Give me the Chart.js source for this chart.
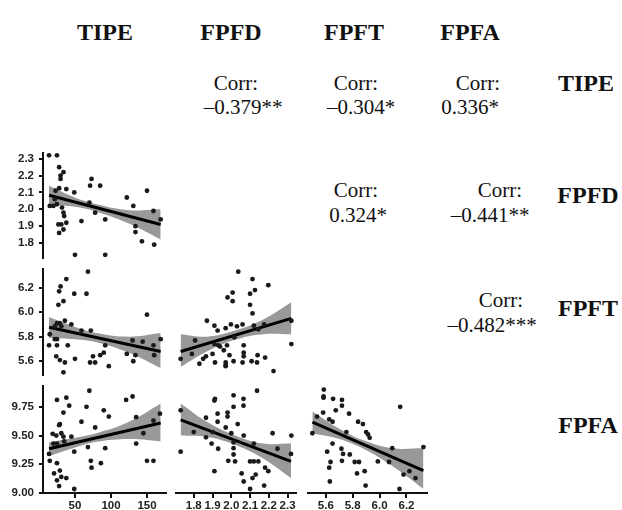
<!DOCTYPE html>
<html>
<head>
<meta charset="utf-8">
<script src="https://cdn.jsdelivr.net/npm/chart.js@4.4.1/dist/chart.umd.min.js"></script>
<style>
  body { margin: 0; background: #fff; }
  #page { position: relative; width: 622px; height: 510px; overflow: hidden; background: #fff; font-family: "Liberation Serif", "Times New Roman", serif; color: #111; }
  .txt { position: absolute; transform: translate(-50%, -50%); white-space: nowrap; line-height: 1; }
  .head { font-weight: bold; font-size: 24px; }
  .corr { font-size: 21px; }
  .panel { position: absolute; }
</style>
</head>
<body>
<div id="page"></div>
<script>
// variable names
const varNames = ["TIPE", "FPFD", "FPFT", "FPFA"];

// tick labels
const tipeTicks = [50, 100, 150];
const fpfdTicks = [1.8, 1.9, 2.0, 2.1, 2.2, 2.3];
const fpftTicks = [5.6, 5.8, 6.0, 6.2];
const fpfaTicks = [9.00, 9.25, 9.50, 9.75];

// correlations shown in the upper triangle
const corrRow = [0, 0, 0, 1, 1, 2];
const corrCol = [1, 2, 3, 2, 3, 3];
const corrText = ["\u20130.379**", "\u20130.304*", "0.336*", "0.324*", "\u20130.441**", "\u20130.482***"];

// FPFD vs TIPE
const p21x = [14,25,28,34,30,30,49, 15,20,22,25,32,34,35, 28,23,38,27,31,38,34,28, 50,73,71,85,59,70,78,92,92, 122,131,134,134,143,150,159,160,169];
const p21y = [2.32,2.32,2.25,2.22,2.20,2.18,2.10, 2.02,2.02,2.06,2.03,2.01,1.98,1.96, 2.125,2.11,2.12,1.91,1.91,1.92,1.88,1.86, 1.73,2.18,2.14,2.14,1.93,2.04,1.98,1.94,1.73, 2.07,2.02,1.90,1.865,1.81,2.11,1.99,1.79,1.94];
const fit21x = [14, 169];
const fit21y = [2.083, 1.91];
const band21x = [14, 50, 80, 125, 169];
const band21hi = [2.14, 2.07, 2.03, 1.995, 2.0];
const band21lo = [2.025, 2.015, 1.985, 1.915, 1.82];

// FPFT vs TIPE
const p31x = [68,38,30,28,49,66,34,27,150, 25,29,36,45,22,31, 59,72,15,22,25, 14,25,40,92, 24,29,36,50,71,78,75,85,90,97, 122,131,134,130,144,159,160,169,34];
const p31y = [6.33,6.27,6.21,6.17,6.15,6.15,6.09,6.06,5.98, 5.91,5.91,5.93,5.90,5.885,5.885, 5.85,5.85,5.82,5.78,5.78, 5.73,5.73,5.73,5.73, 5.64,5.61,5.59,5.62,5.59,5.59,5.64,5.65,5.67,5.56, 5.66,5.60,5.65,5.77,5.76,5.73,5.65,5.78,5.51];
const fit31x = [14, 169];
const fit31y = [5.877, 5.68];
const band31x = [14, 50, 80, 125, 169];
const band31hi = [5.96, 5.88, 5.83, 5.80, 5.83];
const band31lo = [5.79, 5.78, 5.755, 5.67, 5.545];

// FPFA vs TIPE
const p41x = [70,25,38,42,34,66,90,97,121,130,135,168,59,29,28,78,145,159, 19,24,31,34,45,35,20,25, 49,68,92,135,14,15,25,72,73,86,150,159,21,29,31,38,25,28,49];
const p41y = [9.89,9.81,9.83,9.76,9.70,9.75,9.72,9.665,9.81,9.84,9.66,9.69,9.62,9.60,9.59,9.57,9.52,9.63, 9.515,9.50,9.52,9.49,9.49,9.45,9.43,9.43, 9.36,9.40,9.39,9.43,9.34,9.28,9.26,9.28,9.22,9.26,9.28,9.28,9.17,9.195,9.14,9.13,9.11,9.06,9.035];
const fit41x = [14, 169];
const fit41y = [9.385, 9.61];
const band41x = [14, 50, 80, 125, 169];
const band41hi = [9.44, 9.48, 9.52, 9.62, 9.78];
const band41lo = [9.32, 9.395, 9.445, 9.47, 9.45];

// FPFT vs FPFD
const p32x = [2.037,2.113,2.197,2.126,2.10,2.007,1.98,2.007,2.10,2.113, 1.87,1.91,1.927,1.998,2.03,2.06,2.12,2.175,2.144,1.97,2.016,2.32, 1.807,1.91,1.93,1.94,1.96,1.977,2.066,2.32, 1.73,1.79,1.85,1.865,1.83,1.90,1.913,1.97,1.97,1.97,2.012,1.99,2.066,2.066,2.06,2.108,2.137,2.14,2.18,2.225];
const p32y = [6.33,6.27,6.22,6.18,6.15,6.16,6.12,6.09,6.06,5.99, 5.93,5.89,5.85,5.90,5.885,5.90,5.89,5.90,5.86,5.87,5.795,5.93, 5.77,5.74,5.73,5.72,5.69,5.73,5.73,5.74, 5.62,5.66,5.62,5.64,5.58,5.66,5.59,5.59,5.57,5.56,5.60,5.65,5.67,5.64,5.59,5.60,5.59,5.65,5.63,5.52];
const fit32x = [1.73, 2.32];
const fit32y = [5.68, 5.95];
const band32x = [1.73, 1.87, 2.02, 2.17, 2.32];
const band32hi = [5.82, 5.80, 5.85, 5.94, 6.08];
const band32lo = [5.555, 5.68, 5.775, 5.82, 5.82];

// FPFA vs FPFD
const p42x = [2.137,2.012,2.065,1.913,1.91,2.065,2.012,1.73,1.927,1.98,1.98,1.865,1.927,2.034,1.97,1.90,1.80,2.0,2.066,1.865,2.22,2.32,1.895,2.012,2.12,1.93,2.012,1.73,2.246,2.318,2.012,1.984,2.02,2.10,2.12,2.144,2.18,2.197,1.91,2.055,2.13,2.113,2.066,2.175,2.10];
const p42y = [9.89,9.85,9.82,9.82,9.805,9.76,9.75,9.72,9.69,9.70,9.665,9.655,9.62,9.60,9.57,9.53,9.53,9.52,9.50,9.485,9.52,9.50,9.43,9.44,9.43,9.385,9.39,9.36,9.385,9.34,9.335,9.28,9.275,9.275,9.275,9.275,9.22,9.19,9.19,9.17,9.16,9.13,9.10,9.065,9.035];
const fit42x = [1.73, 2.318];
const fit42y = [9.637, 9.276];
const band42x = [1.73, 1.87, 2.02, 2.17, 2.318];
const band42hi = [9.78, 9.62, 9.50, 9.43, 9.43];
const band42lo = [9.50, 9.49, 9.42, 9.30, 9.13];

// FPFA vs FPFT
const p43x = [5.585,5.583,5.583,5.654,5.72,5.72,5.674,5.58,5.773,5.535,6.153,5.625,5.65,5.84,5.876,5.753,5.90,5.914,5.926,5.50,5.65,5.61,5.716,5.728,5.778,5.635,5.72,5.815,5.847,5.987,6.07,6.094,6.326,5.625,5.832,5.889,6.178,6.222,6.267,5.63,5.896,6.148];
const p43y = [9.90,9.84,9.83,9.82,9.81,9.76,9.72,9.70,9.69,9.665,9.75,9.64,9.62,9.62,9.60,9.53,9.53,9.51,9.48,9.52,9.43,9.36,9.385,9.34,9.335,9.27,9.28,9.27,9.27,9.275,9.27,9.39,9.40,9.22,9.17,9.19,9.16,9.19,9.13,9.10,9.065,9.035];
const fit43x = [5.50, 6.326];
const fit43y = [9.616, 9.195];
const band43x = [5.50, 5.70, 5.88, 6.10, 6.326];
const band43hi = [9.71, 9.56, 9.46, 9.39, 9.39];
const band43lo = [9.52, 9.47, 9.385, 9.23, 9.035];

// layout of the grid (pixels)
const colLeft = [43, 175, 307, 438];
const colRight = [167, 297, 428, 560];
const rowTop = [40, 152, 268, 385];
const rowBottom = [140, 259, 376, 493];
const headX = [105, 231, 354, 470];

// axis ranges
const xRanges = [[5.6, 177.8], [1.70, 2.35], [5.46, 6.36]];
const yRanges = [null, [1.705, 2.34], [5.48, 6.36], [9.0, 9.94]];
const xTicks = [tipeTicks, fpfdTicks, fpftTicks];
const yTicks = [null, fpfdTicks, fpftTicks, fpfaTicks];

const page = document.getElementById("page");

function addText(str, x, y, cls) {
    const d = document.createElement("div");
    d.className = "txt " + cls;
    d.textContent = str;
    d.style.left = x + "px";
    d.style.top = y + "px";
    page.appendChild(d);
}

// headers
varNames.forEach((n, i) => addText(n, headX[i], 32, "head"));
addText("TIPE", 586, 83, "head");
addText("FPFD", 588, 195, "head");
addText("FPFT", 588, 308, "head");
addText("FPFA", 588, 425, "head");

// correlation cells: [x of "Corr:", x of value]
const corrX = [[236, 243], [356, 361], [478, 470], [356, 358], [500, 490], [501, 492]];
const corrY = [[83, 107], [190, 215], [300, 325]];
corrText.forEach((t, i) => {
    addText("Corr:", corrX[i][0], corrY[corrRow[i]][0], "corr");
    addText(t, corrX[i][1], corrY[corrRow[i]][1], "corr");
});

function pts(xs, ys) {
    return xs.map((x, i) => ({ x: x, y: ys[i] }));
}

function fmt(v, ticks) {
    if (ticks === fpfaTicks) return v.toFixed(2);
    if (ticks === tipeTicks) return String(v);
    return v.toFixed(1);
}

function makePanel(r, c, xs, ys, fx, fy, bx, bhi, blo) {
    const showY = c === 0;
    const showX = r === 3;
    const left = showY ? 0 : colLeft[c];
    const top = rowTop[r];
    const w = colRight[c] - left;
    const h = rowBottom[r] - top + (showX ? 17 : 0);

    const box = document.createElement("div");
    box.className = "panel";
    box.style.left = left + "px";
    box.style.top = top + "px";
    box.style.width = w + "px";
    box.style.height = h + "px";
    const cv = document.createElement("canvas");
    box.appendChild(cv);
    page.appendChild(box);

    const tickFont = { family: "Liberation Sans", size: 11.5, weight: "bold" };
    const xt = xTicks[c], yt = yTicks[r];

    new Chart(cv.getContext("2d"), {
        type: "scatter",
        data: {
            datasets: [
                {
                    type: "scatter",
                    data: pts(xs, ys),
                    pointRadius: 2.4,
                    pointBackgroundColor: "#1a1a1a",
                    pointBorderWidth: 0,
                    clip: false,
                    order: 0,
                },
                {
                    type: "line",
                    data: pts(fx, fy),
                    borderColor: "#000",
                    borderWidth: 3,
                    pointRadius: 0,
                    fill: false,
                    clip: false,
                    order: 1,
                },
                {
                    type: "line",
                    data: pts(bx, bhi),
                    borderWidth: 0,
                    pointRadius: 0,
                    tension: 0.4,
                    fill: "+1",
                    backgroundColor: "#999999",
                    clip: false,
                    order: 2,
                },
                {
                    type: "line",
                    data: pts(bx, blo),
                    borderWidth: 0,
                    pointRadius: 0,
                    tension: 0.4,
                    fill: false,
                    clip: false,
                    order: 3,
                },
            ],
        },
        options: {
            responsive: true,
            maintainAspectRatio: false,
            animation: false,
            layout: { padding: 0, autoPadding: false },
            plugins: { legend: { display: false }, tooltip: { enabled: false } },
            scales: {
                x: {
                    type: "linear",
                    min: xRanges[c][0],
                    max: xRanges[c][1],
                    display: showX,
                    afterBuildTicks: (s) => { s.ticks = xt.map((v) => ({ value: v })); },
                    afterFit: (s) => {
                        if (!showX) return;
                        s.height = 17;
                        s.paddingLeft = 0;
                        s.paddingRight = 0;
                    },
                    border: { display: true, color: "#111", width: 2 },
                    grid: { display: true, drawOnChartArea: false, drawTicks: true, tickLength: 5, color: "#111", lineWidth: 2 },
                    ticks: { autoSkip: false, maxRotation: 0, padding: 1, color: "#222", font: tickFont, callback: (v) => fmt(v, xt) },
                },
                y: {
                    type: "linear",
                    min: yRanges[r][0],
                    max: yRanges[r][1],
                    display: showY,
                    afterBuildTicks: (s) => { s.ticks = yt.map((v) => ({ value: v })); },
                    afterFit: (s) => {
                        if (!showY) return;
                        s.width = 43;
                        s.paddingTop = 0;
                        s.paddingBottom = 0;
                    },
                    border: { display: true, color: "#111", width: 2 },
                    grid: { display: true, drawOnChartArea: false, drawTicks: true, tickLength: 4, color: "#111", lineWidth: 2 },
                    ticks: { autoSkip: false, padding: 5, color: "#222", font: tickFont, callback: (v) => fmt(v, yt) },
                },
            },
        },
    });
}

makePanel(1, 0, p21x, p21y, fit21x, fit21y, band21x, band21hi, band21lo);
makePanel(2, 0, p31x, p31y, fit31x, fit31y, band31x, band31hi, band31lo);
makePanel(3, 0, p41x, p41y, fit41x, fit41y, band41x, band41hi, band41lo);
makePanel(2, 1, p32x, p32y, fit32x, fit32y, band32x, band32hi, band32lo);
makePanel(3, 1, p42x, p42y, fit42x, fit42y, band42x, band42hi, band42lo);
makePanel(3, 2, p43x, p43y, fit43x, fit43y, band43x, band43hi, band43lo);
</script>
</body>
</html>
